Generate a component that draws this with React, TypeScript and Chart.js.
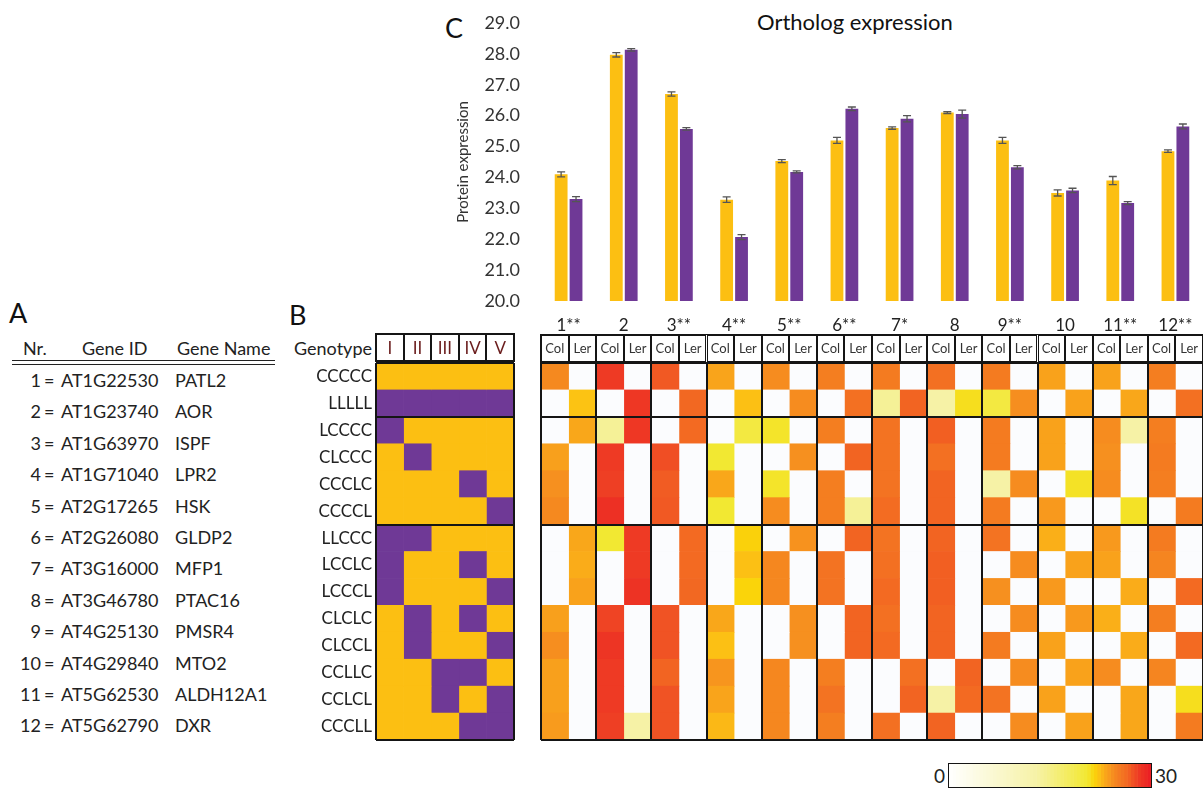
import React, { useEffect, useRef } from 'react';
import { Chart, registerables } from 'chart.js';

Chart.register(...registerables);

const FONT = 'Lato, "Open Sans", "DejaVu Sans", sans-serif';
const TEXT = '#222222';
const YELLOW = '#FCBF12';
const PURPLE = '#6F3996';
const LINE = '#151515';
const CLEAR = 'rgba(0,0,0,0)';

// ---- Panel C: bar chart data ----
const geneLabels = ['1**', '2', '3**', '4**', '5**', '6**', '7*', '8', '9**', '10', '11**', '12**'];
const colMeans = [24.1, 27.97, 26.7, 23.28, 24.53, 25.2, 25.6, 26.1, 25.2, 23.5, 23.9, 24.85];
const lerMeans = [23.3, 28.13, 25.57, 22.07, 24.18, 26.22, 25.9, 26.05, 24.33, 23.58, 23.17, 25.65];
const colErr = [0.08, 0.07, 0.07, 0.09, 0.05, 0.1, 0.04, 0.03, 0.1, 0.1, 0.13, 0.04];
const lerErr = [0.08, 0.04, 0.04, 0.08, 0.03, 0.06, 0.1, 0.13, 0.05, 0.07, 0.05, 0.08];
const yTickMin = 20;
const yTickMax = 29;

// ---- Panel A: gene table ----
const geneNumbers = ['1', '2', '3', '4', '5', '6', '7', '8', '9', '10', '11', '12'];
const geneIds = ['AT1G22530', 'AT1G23740', 'AT1G63970', 'AT1G71040', 'AT2G17265', 'AT2G26080', 'AT3G16000', 'AT3G46780', 'AT4G25130', 'AT4G29840', 'AT5G62530', 'AT5G62790'];
const geneNames = ['PATL2', 'AOR', 'ISPF', 'LPR2', 'HSK', 'GLDP2', 'MFP1', 'PTAC16', 'PMSR4', 'MTO2', 'ALDH12A1', 'DXR'];

// ---- Panel B: genotypes and heatmap ----
const genotypes = ['CCCCC', 'LLLLL', 'LCCCC', 'CLCCC', 'CCCLC', 'CCCCL', 'LLCCC', 'LCCLC', 'LCCCL', 'CLCLC', 'CLCCL', 'CCLLC', 'CCLCL', 'CCCLL'];
const chromosomes = ['I', 'II', 'III', 'IV', 'V'];
const accessions = ['Col', 'Ler'];

// values per genotype row, columns: gene1 Col, gene1 Ler, gene2 Col, gene2 Ler, ... (0 = not detected)
const hmCCCCC = [24.5, 0, 28.2, 0, 27, 0, 23.3, 0, 24.4, 0, 25, 0, 25.2, 0, 26, 0, 25.2, 0, 23.4, 0, 23.4, 0, 25, 0];
const hmLLLLL = [0, 22.2, 0, 28.4, 0, 26.4, 0, 22.3, 0, 24.4, 0, 26, 14, 26.6, 13, 21, 19.5, 24.3, 0, 23.4, 0, 23.2, 0, 26];
const hmLCCCC = [0, 23.2, 14, 28.4, 0, 26.3, 0, 19.5, 20.7, 0, 25, 0, 25.8, 0, 26.8, 0, 25.2, 0, 23.4, 0, 24.4, 13, 25, 0];
const hmCLCCC = [23.5, 0, 28.2, 0, 27.4, 0, 20.5, 0, 0, 24.2, 0, 26.6, 25.8, 0, 26, 0, 25.2, 0, 23.4, 0, 24.2, 0, 25.2, 0];
const hmCCCLC = [24.2, 0, 28, 0, 26.9, 0, 23.2, 0, 20.7, 0, 25, 0, 25.8, 0, 26.6, 0, 13, 24.4, 0, 20.8, 24.4, 0, 25, 0];
const hmCCCCL = [24.5, 0, 28.8, 0, 27, 0, 20.5, 0, 24.4, 0, 25, 14, 26.2, 0, 26.6, 0, 25.2, 0, 23.8, 0, 0, 20.8, 0, 25.2];
const hmLLCCC = [0, 23.2, 20.5, 28.2, 0, 26.3, 0, 21.6, 0, 24.1, 0, 26.6, 25.8, 0, 26.6, 0, 25.8, 0, 22.9, 0, 23.8, 0, 25.2, 0];
const hmLCCLC = [0, 23, 0, 28.2, 0, 26.3, 0, 22.3, 24.6, 0, 25.8, 0, 26, 0, 26.8, 0, 0, 24.4, 0, 23.4, 23.4, 0, 24.7, 0];
const hmLCCCL = [0, 23.4, 0, 28.6, 0, 26.4, 0, 21.5, 24.6, 0, 25.8, 0, 26.3, 0, 26.8, 0, 24.2, 0, 23.8, 0, 0, 23, 0, 26.3];
const hmCLCLC = [23.5, 0, 27.8, 0, 27.2, 0, 23.2, 0, 0, 24.2, 0, 26.6, 26, 0, 26.6, 0, 0, 24.4, 0, 23.8, 22.9, 0, 25, 0];
const hmCLCCL = [24.3, 0, 28.5, 0, 27.2, 0, 22.3, 0, 0, 24.2, 0, 26.6, 26.3, 0, 26.6, 0, 25.2, 0, 23.4, 0, 0, 23, 0, 26.3];
const hmCCLLC = [23.5, 0, 28.2, 0, 26.6, 0, 24, 0, 24.6, 0, 25, 0, 0, 26, 0, 26.6, 0, 24.4, 0, 23.4, 24.4, 0, 24.7, 0];
const hmCCLCL = [23.5, 0, 28.2, 0, 27.2, 0, 23.3, 0, 24.6, 0, 25.8, 0, 0, 26.6, 13, 26.3, 25.8, 0, 23.4, 0, 0, 23.2, 0, 21];
const hmCCCLL = [23.7, 0, 28, 13, 27.2, 0, 22.6, 0, 24.6, 0, 25, 0, 26, 0, 26.6, 0, 0, 24.4, 0, 23.4, 0, 23.2, 0, 25.2];
const heatRows = [hmCCCCC, hmLLLLL, hmLCCCC, hmCLCCC, hmCCCLC, hmCCCCL, hmLLCCC, hmLCCLC, hmLCCCL, hmCLCLC, hmCLCCL, hmCCLLC, hmCCLCL, hmCCCLL];
const rowSeparators = [0, 2, 6];

// colour scale
const scaleMin = 0;
const scaleMax = 30;
const colorStopValues = [0, 13, 20.5, 21.5, 22.3, 23.3, 24.3, 25, 26, 26.7, 27.2, 28.2, 29, 30];
const colorStopColors = ['#FFFFFF', '#F6F2A6', '#F2E832', '#FAD40A', '#FCC014', '#F9A41B', '#F68E1F', '#F47E20', '#F37022', '#F26222', '#F05324', '#EE3A24', '#EC2D24', '#EC1C24'];
const emptyCell = '#FBFCFE';

function hexToRgb(h: string) {
  const n = parseInt(h.slice(1), 16);
  return [(n >> 16) & 255, (n >> 8) & 255, n & 255];
}
function colorFor(v: number, allowZero = false): string {
  if (!allowZero && v <= 0) return emptyCell;
  if (v <= colorStopValues[0]) return colorStopColors[0];
  for (let i = 1; i < colorStopValues.length; i++) {
    if (v <= colorStopValues[i]) {
      const t = (v - colorStopValues[i - 1]) / (colorStopValues[i] - colorStopValues[i - 1]);
      const a = hexToRgb(colorStopColors[i - 1]);
      const b = hexToRgb(colorStopColors[i]);
      const c = a.map((x, k) => Math.round(x + (b[k] - x) * t));
      return `rgb(${c[0]},${c[1]},${c[2]})`;
    }
  }
  return colorStopColors[colorStopColors.length - 1];
}

// ---- layout constants ----
const BAR_LEFT = 440;
const PLOT_LEFT = 541;
const PLOT_RIGHT = 1203;
const BAR_CANVAS_H = 336;
const HEAT_TOP = 363;
const HEAT_BOTTOM = 740;
const GENO_LEFT = 376;
const GENO_RIGHT = 514;
const PAD = 2;

const zeroPadding = (s: any) => {
  s.paddingTop = 0;
  s.paddingBottom = 0;
  s.paddingLeft = 0;
  s.paddingRight = 0;
};

const errorBarPlugin = {
  id: 'errorBars',
  afterDatasetsDraw(chart: any) {
    const ctx = chart.ctx;
    const yScale = chart.scales.y;
    chart.data.datasets.forEach((ds: any, di: number) => {
      const meta = chart.getDatasetMeta(di);
      meta.data.forEach((bar: any, i: number) => {
        const v = ds.data[i];
        const e = ds.errorValues[i];
        const x = bar.x;
        const y1 = yScale.getPixelForValue(v + e);
        const y2 = yScale.getPixelForValue(v - e);
        ctx.save();
        ctx.strokeStyle = '#555555';
        ctx.lineWidth = 1.3;
        ctx.beginPath();
        ctx.moveTo(x, y1);
        ctx.lineTo(x, y2);
        ctx.moveTo(x - 4, y1);
        ctx.lineTo(x + 4, y1);
        ctx.moveTo(x - 4, y2);
        ctx.lineTo(x + 4, y2);
        ctx.stroke();
        ctx.restore();
      });
    });
  },
};

function gridCellConfig(labels: string[], nCols: number, colColors: (c: number) => string[], vLineAt: (v: number) => boolean, showLabels: boolean, axisWidth: number): any {
  const datasets = [];
  for (let c = 0; c < nCols; c++) {
    datasets.push({
      data: labels.map(() => 1),
      backgroundColor: colColors(c),
      borderWidth: 0,
      barPercentage: 1,
      categoryPercentage: 1,
    });
  }
  return {
    type: 'bar',
    data: { labels, datasets },
    options: {
      animation: false,
      responsive: false,
      maintainAspectRatio: false,
      indexAxis: 'y',
      layout: { padding: { top: PAD, bottom: PAD, right: PAD, left: showLabels ? 0 : PAD } },
      plugins: { legend: { display: false }, tooltip: { enabled: false } },
      scales: {
        x: {
          type: 'linear',
          stacked: true,
          min: 0,
          max: nCols,
          ticks: { display: false, stepSize: 1, autoSkip: false },
          grid: {
            z: 1,
            drawTicks: false,
            lineWidth: 2,
            color: (ctx: any) => (ctx.tick && vLineAt(ctx.tick.value) ? LINE : CLEAR),
          },
          border: { display: false },
          afterFit: (s: any) => { s.height = 0; zeroPadding(s); },
        },
        y: {
          type: 'category',
          stacked: true,
          ticks: {
            display: showLabels,
            autoSkip: false,
            padding: 4,
            color: TEXT,
            font: { family: FONT, size: 17 },
          },
          grid: {
            z: 1,
            offset: true,
            drawTicks: false,
            lineWidth: 2,
            color: (ctx: any) => (ctx.type !== 'tick' || rowSeparators.includes(ctx.index) ? LINE : CLEAR),
          },
          border: { display: false },
          afterFit: (s: any) => { s.width = axisWidth; zeroPadding(s); },
        },
      },
    },
  };
}

export default function App() {
  const barRef = useRef<HTMLCanvasElement>(null);
  const genoRef = useRef<HTMLCanvasElement>(null);
  const heatRef = useRef<HTMLCanvasElement>(null);
  const scaleRef = useRef<HTMLCanvasElement>(null);

  useEffect(() => {
    const charts: Chart[] = [];

    charts.push(new Chart(barRef.current!, {
      type: 'bar',
      data: {
        labels: geneLabels,
        datasets: [
          { label: 'Col', data: colMeans, errorValues: colErr, backgroundColor: YELLOW, borderWidth: 0, categoryPercentage: 0.54, barPercentage: 0.86 } as any,
          { label: 'Ler', data: lerMeans, errorValues: lerErr, backgroundColor: PURPLE, borderWidth: 0, categoryPercentage: 0.54, barPercentage: 0.86 } as any,
        ],
      },
      options: {
        animation: false,
        responsive: false,
        maintainAspectRatio: false,
        layout: { padding: { top: 23, right: 0, bottom: 0, left: 0 } },
        plugins: { legend: { display: false }, tooltip: { enabled: false } },
        scales: {
          x: {
            grid: { display: false },
            border: { display: false },
            ticks: { color: TEXT, font: { family: FONT, size: 17 }, padding: 6, maxRotation: 0, autoSkip: false },
            afterFit: (s: any) => { s.height = 35; zeroPadding(s); },
          },
          y: {
            min: yTickMin,
            max: yTickMax,
            grid: { display: false },
            border: { display: false },
            ticks: { stepSize: 1, color: '#333333', font: { family: FONT, size: 18 }, padding: 13, callback: (v: any) => Number(v).toFixed(1) },
            title: { display: true, text: 'Protein expression', color: '#333333', font: { family: FONT, size: 15 }, padding: { top: 14, bottom: 0 } },
            afterFit: (s: any) => { s.width = PLOT_LEFT - BAR_LEFT; zeroPadding(s); },
          },
        },
      } as any,
      plugins: [errorBarPlugin],
    }));

    charts.push(new Chart(genoRef.current!, gridCellConfig(
      genotypes,
      chromosomes.length,
      (c) => genotypes.map((g) => (g[c] === 'L' ? PURPLE : YELLOW)),
      (v) => v === 0 || v === chromosomes.length,
      true,
      GENO_LEFT - 280,
    )));

    charts.push(new Chart(heatRef.current!, gridCellConfig(
      genotypes,
      geneLabels.length * accessions.length,
      (c) => heatRows.map((r) => colorFor(r[c])),
      (v) => v % 2 === 0,
      false,
      0,
    )));

    const segCount = 60;
    const segs = [];
    for (let i = 0; i < segCount; i++) {
      const step = (scaleMax - scaleMin) / segCount;
      segs.push({ data: [step], backgroundColor: colorFor(scaleMin + step * (i + 0.5), true), borderWidth: 0, barPercentage: 1, categoryPercentage: 1 });
    }
    charts.push(new Chart(scaleRef.current!, {
      type: 'bar',
      data: { labels: ['scale'], datasets: segs },
      options: {
        animation: false,
        responsive: false,
        maintainAspectRatio: false,
        indexAxis: 'y',
        layout: { padding: 0 },
        plugins: { legend: { display: false }, tooltip: { enabled: false } },
        scales: {
          x: { type: 'linear', stacked: true, min: scaleMin, max: scaleMax, display: false },
          y: { stacked: true, display: false },
        },
      } as any,
    }));

    return () => charts.forEach((c) => c.destroy());
  }, []);

  const heatColW = (PLOT_RIGHT - PLOT_LEFT) / (geneLabels.length * accessions.length);
  const genoColW = (GENO_RIGHT - GENO_LEFT) / chromosomes.length;
  const tableRowY = (i: number) => 380 + i * 31.4;

  const abs = (left: number, top: number, extra: any = {}) => ({ position: 'absolute' as const, left, top, ...extra });

  return (
    <div style={{ position: 'absolute', left: 0, top: 0, width: 1203, height: 789, overflow: 'hidden', background: '#ffffff', fontFamily: FONT, color: TEXT }}>
      {/* Panel letters */}
      <div style={abs(9, 298, { fontSize: 27, lineHeight: '30px', color: '#111' })}>A</div>
      <div style={abs(289, 300, { fontSize: 27, lineHeight: '30px', color: '#111' })}>B</div>
      <div style={abs(445, 13, { fontSize: 27, lineHeight: '30px', color: '#111' })}>C</div>

      {/* Panel C */}
      <div style={abs(757, 9, { fontSize: 22, lineHeight: '26px', color: '#111', whiteSpace: 'nowrap' })}>Ortholog expression</div>
      <canvas ref={barRef} width={PLOT_RIGHT - BAR_LEFT} height={BAR_CANVAS_H} style={abs(BAR_LEFT, 0, { width: PLOT_RIGHT - BAR_LEFT, height: BAR_CANVAS_H })} />

      {/* Panel A table */}
      <div style={abs(23, 336, { fontSize: 18, lineHeight: '24px' })}>Nr.</div>
      <div style={abs(82, 336, { fontSize: 18, lineHeight: '24px' })}>Gene ID</div>
      <div style={abs(177, 336, { fontSize: 18, lineHeight: '24px' })}>Gene Name</div>
      <div style={abs(12, 360, { width: 263, height: 1.4, background: '#222' })} />
      <div style={abs(12, 363.5, { width: 263, height: 1.4, background: '#222' })} />
      {geneNumbers.map((n, i) => (
        <React.Fragment key={n}>
          <div style={abs(0, tableRowY(i) - 12, { width: 41, textAlign: 'right', fontSize: 18, lineHeight: '24px' })}>{n}</div>
          <div style={abs(44, tableRowY(i) - 12, { fontSize: 18, lineHeight: '24px' })}>=</div>
          <div style={abs(61, tableRowY(i) - 12, { fontSize: 18, lineHeight: '24px' })}>{geneIds[i]}</div>
          <div style={abs(175, tableRowY(i) - 12, { fontSize: 18, lineHeight: '24px' })}>{geneNames[i]}</div>
        </React.Fragment>
      ))}

      {/* Panel B: genotype header */}
      <div style={abs(270, 336, { width: 102, textAlign: 'right', fontSize: 18, lineHeight: '24px' })}>Genotype</div>
      <div style={abs(GENO_LEFT - 1, 333, { width: GENO_RIGHT - GENO_LEFT + 2, height: 29, border: `1px solid ${LINE}`, boxSizing: 'border-box' })} />
      {chromosomes.map((c, i) => (
        <div key={c} style={abs(GENO_LEFT + i * genoColW, 334, { width: genoColW, height: 27, border: `1px solid ${LINE}`, boxSizing: 'border-box', textAlign: 'center', fontSize: 17, lineHeight: '25px', color: '#6A1C1C' })}>{c}</div>
      ))}
      <canvas ref={genoRef} width={GENO_RIGHT + PAD - 280} height={HEAT_BOTTOM - HEAT_TOP + 2 * PAD} style={abs(280, HEAT_TOP - PAD, { width: GENO_RIGHT + PAD - 280, height: HEAT_BOTTOM - HEAT_TOP + 2 * PAD })} />

      {/* Panel B: expression header */}
      <div style={abs(PLOT_LEFT - 1, 334, { width: PLOT_RIGHT - PLOT_LEFT + 2, height: 29, border: `1px solid ${LINE}`, boxSizing: 'border-box' })} />
      {geneLabels.flatMap((g, gi) => accessions.map((a, ai) => {
        const idx = gi * accessions.length + ai;
        return (
          <div key={`${g}-${a}`} style={abs(PLOT_LEFT + idx * heatColW, 335, { width: heatColW, height: 27, border: `1px solid ${LINE}`, boxSizing: 'border-box', textAlign: 'center', fontSize: 13, lineHeight: '25px', color: '#333' })}>{a}</div>
        );
      }))}
      <canvas ref={heatRef} width={PLOT_RIGHT - PLOT_LEFT + 2 * PAD} height={HEAT_BOTTOM - HEAT_TOP + 2 * PAD} style={abs(PLOT_LEFT - PAD, HEAT_TOP - PAD, { width: PLOT_RIGHT - PLOT_LEFT + 2 * PAD, height: HEAT_BOTTOM - HEAT_TOP + 2 * PAD })} />

      {/* Colour scale */}
      <div style={abs(920, 764, { width: 25, textAlign: 'right', fontSize: 19, lineHeight: '24px' })}>{scaleMin}</div>
      <div style={abs(1155, 764, { fontSize: 19, lineHeight: '24px' })}>{scaleMax}</div>
      <div style={abs(948, 763, { width: 204, height: 25, border: `1px solid ${LINE}`, boxSizing: 'border-box' })}>
        <canvas ref={scaleRef} width={202} height={23} style={{ display: 'block', width: 202, height: 23 }} />
      </div>
    </div>
  );
}
